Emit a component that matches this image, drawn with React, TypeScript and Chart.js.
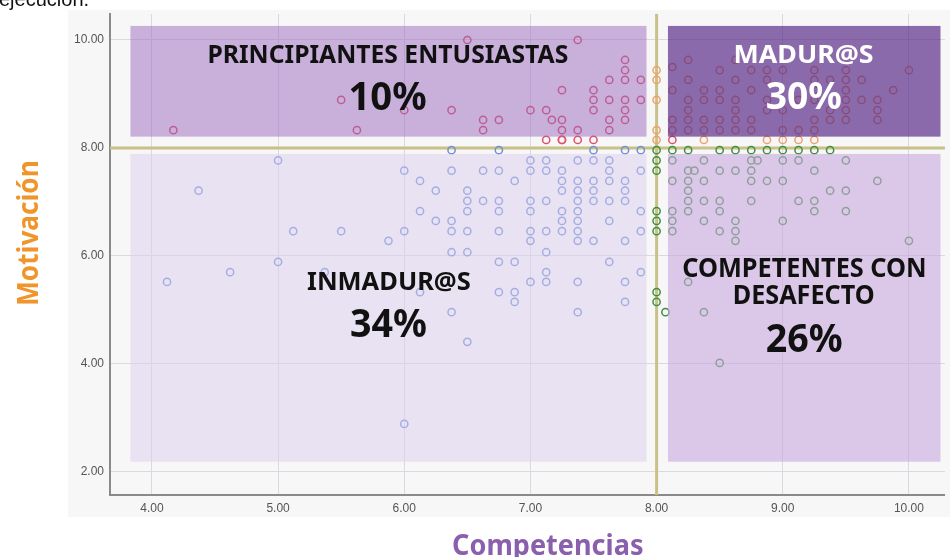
import React, { useEffect, useRef } from "react";
import { Chart, registerables } from "chart.js";

Chart.register(...registerables);

// ---------- data ----------
const xTickValues = [4, 5, 6, 7, 8, 9, 10];
const yTickValues = [2, 4, 6, 8, 10];
const cutCompetencias = 8;
const cutMotivacion = 8;

const principiantesPoints: [number, number][] = [
  [4.17, 8.33], [5.5, 8.89], [5.625, 8.33], [6.0, 8.7], [6.375, 8.7], [6.5, 10.0],
  [6.625, 8.52], [6.625, 8.33], [6.75, 8.52], [7.0, 8.7], [7.125, 8.7], [7.17, 8.52],
  [7.25, 9.07], [7.25, 8.52], [7.25, 8.33], [7.375, 10.0], [7.375, 8.33],
  [7.5, 9.07], [7.5, 8.89], [7.5, 8.7], [7.625, 9.26], [7.625, 8.89], [7.625, 8.52], [7.625, 8.33],
  [7.75, 9.63], [7.75, 9.44], [7.75, 9.26], [7.75, 8.89], [7.75, 8.7], [7.75, 8.52],
  [7.875, 9.26], [7.875, 8.89],
  [7.125, 8.15], [7.25, 8.15], [7.25, 8.15], [7.375, 8.15], [7.5, 8.15], [8.125, 8.15],
];

const madurPoints: [number, number][] = [
  [8, 9.44], [8, 9.26], [8, 8.89], [8, 8.33], [8, 8.15],
  [8.375, 8.15], [8.875, 8.15], [9.0, 8.15], [9.125, 8.15], [9.25, 8.15],
  [8.25, 9.63], [8.625, 9.63], [8.125, 9.5],
  [8.5, 9.44], [8.75, 9.44], [8.875, 9.44], [9.0, 9.44], [9.25, 9.44], [9.5, 9.44], [10.0, 9.44],
  [8.25, 9.26], [8.625, 9.26], [8.875, 9.26], [9.25, 9.26], [9.375, 9.26], [9.5, 9.26], [9.625, 9.26],
  [8.125, 9.07], [8.375, 9.07], [8.5, 9.07], [8.75, 9.07], [9.25, 9.07], [9.5, 9.07], [9.875, 9.07],
  [8.25, 8.89], [8.375, 8.89], [8.5, 8.89], [8.625, 8.89], [8.875, 8.89], [9.125, 8.89], [9.25, 8.89],
  [9.5, 8.89], [9.625, 8.89], [9.75, 8.89],
  [8.25, 8.7], [8.625, 8.7], [8.875, 8.7], [9.0, 8.7], [9.375, 8.7], [9.5, 8.7], [9.75, 8.7],
  [8.125, 8.52], [8.25, 8.52], [8.375, 8.52], [8.5, 8.52], [8.625, 8.52], [8.75, 8.52],
  [9.25, 8.52], [9.375, 8.52], [9.5, 8.52], [9.75, 8.52],
  [8.125, 8.33], [8.25, 8.33], [8.375, 8.33], [8.5, 8.33], [8.625, 8.33], [8.75, 8.33],
  [9.0, 8.33], [9.125, 8.33], [9.25, 8.33],
];

const competentesPoints: [number, number][] = [
  [8, 7.96], [8, 7.77], [8, 7.58], [8, 6.83], [8, 6.65], [8, 6.46], [8, 5.33], [8, 5.15], [8.07, 4.96],
  [8.125, 7.96], [8.25, 7.96], [8.5, 7.96], [8.625, 7.96], [8.75, 7.96], [8.875, 7.96],
  [9.0, 7.96], [9.125, 7.96], [9.25, 7.96], [9.375, 7.96],
  [8.125, 7.77], [8.375, 7.77], [8.75, 7.77], [8.8, 7.77], [9.0, 7.77], [9.125, 7.77], [9.5, 7.77],
  [8.25, 7.58], [8.3, 7.58], [8.5, 7.58], [8.625, 7.58], [8.75, 7.58], [9.25, 7.58],
  [8.125, 7.39], [8.25, 7.39], [8.375, 7.39], [8.75, 7.39], [8.875, 7.39], [9.0, 7.39], [9.75, 7.39],
  [8.25, 7.21], [9.375, 7.21], [9.5, 7.21],
  [8.25, 7.02], [8.375, 7.02], [8.5, 7.02], [8.75, 7.02], [9.125, 7.02], [9.25, 7.02],
  [8.125, 6.83], [8.25, 6.83], [8.5, 6.83], [9.25, 6.83], [9.5, 6.83],
  [8.125, 6.65], [8.375, 6.65], [8.625, 6.65], [9.0, 6.65],
  [8.125, 6.46], [8.5, 6.46], [8.625, 6.46],
  [8.625, 6.28], [10.0, 6.28],
  [8.25, 5.52], [8.375, 4.96], [8.5, 4.02],
];

const inmadurPoints: [number, number][] = [
  [6.375, 7.96], [6.75, 7.96], [7.5, 7.96], [7.75, 7.96], [7.875, 7.96],
  [5.0, 7.77], [7.0, 7.77], [7.125, 7.77], [7.375, 7.77], [7.5, 7.77], [7.625, 7.77],
  [6.0, 7.58], [6.375, 7.58], [6.625, 7.58], [6.75, 7.58], [7.0, 7.58], [7.125, 7.58],
  [7.25, 7.58], [7.625, 7.58], [7.875, 7.58],
  [6.125, 7.39], [6.875, 7.39], [7.25, 7.39], [7.375, 7.39], [7.5, 7.39], [7.625, 7.39], [7.75, 7.39],
  [4.37, 7.21], [6.25, 7.21], [6.5, 7.21], [7.25, 7.21], [7.375, 7.21], [7.5, 7.21], [7.75, 7.21],
  [6.5, 7.02], [6.625, 7.02], [6.75, 7.02], [7.0, 7.02], [7.125, 7.02], [7.375, 7.02],
  [7.5, 7.02], [7.625, 7.02], [7.75, 7.02],
  [6.125, 6.83], [6.5, 6.83], [6.75, 6.83], [7.0, 6.83], [7.25, 6.83], [7.375, 6.83], [7.875, 6.83],
  [6.25, 6.65], [6.375, 6.65], [7.25, 6.65], [7.375, 6.65], [7.625, 6.65],
  [5.12, 6.46], [5.5, 6.46], [6.0, 6.46], [6.375, 6.46], [6.5, 6.46], [6.75, 6.46], [7.0, 6.46],
  [7.125, 6.46], [7.25, 6.46], [7.375, 6.46], [7.875, 6.46],
  [5.875, 6.28], [7.0, 6.28], [7.375, 6.28], [7.5, 6.28], [7.75, 6.28],
  [6.375, 6.07], [6.5, 6.07], [7.125, 6.07],
  [5.0, 5.89], [6.75, 5.89], [6.875, 5.89], [7.625, 5.89],
  [4.62, 5.7], [5.37, 5.7], [7.125, 5.7], [7.875, 5.7],
  [4.12, 5.52], [7.0, 5.52], [7.125, 5.52], [7.375, 5.52], [7.75, 5.52],
  [6.125, 5.33], [6.75, 5.33], [6.875, 5.33],
  [6.875, 5.15], [7.75, 5.15],
  [6.375, 4.96], [7.375, 4.96],
  [6.5, 4.41], [6.0, 2.89],
];

// quadrant boxes: principiantes, madur, inmadur, competentes
const boxNames = [["PRINCIPIANTES ENTUSIASTAS"], ["MADUR@S"], ["INMADUR@S"], ["COMPETENTES CON", "DESAFECTO"]];
const boxShares = ["10%", "30%", "34%", "26%"];
const boxX0 = [3.83, 8.09, 3.83, 8.09];
const boxX1 = [7.92, 10.25, 7.92, 10.25];
const boxY0 = [8.21, 8.21, 2.19, 2.19];
const boxY1 = [10.26, 10.26, 7.89, 7.89];

// ---------- styles ----------
const boxFill = ["rgba(154,106,190,0.5)", "rgba(80,31,130,0.65)", "rgba(218,206,238,0.5)", "rgba(200,168,221,0.6)"];
const boxText = ["#111111", "#ffffff", "#111111", "#111111"];
// per box: [dy from box top to baseline, font size, visual width] for names then share
const nameStyle = [
  [[37, 25, 358]],
  [[37, 25, 137]],
  [[136, 25, 163]],
  [[123, 26.5, 242], [150, 26.5, 139]],
];
const shareStyle = [[84, 39, 76], [83, 38, 75], [183, 40, 75], [198, 40, 75]];

function drawFitted(
  ctx: CanvasRenderingContext2D,
  text: string,
  cx: number,
  baseline: number,
  size: number,
  width: number,
  color: string,
  weight = "bold",
  family = '"Noto Sans", sans-serif'
) {
  ctx.save();
  ctx.font = `${weight} ${size}px ${family}`;
  ctx.textAlign = "left";
  ctx.textBaseline = "alphabetic";
  const m = ctx.measureText(text);
  const vis = m.actualBoundingBoxLeft + m.actualBoundingBoxRight;
  const sx = width / vis;
  ctx.translate(cx - width / 2, baseline);
  ctx.scale(sx, 1);
  ctx.fillStyle = color;
  ctx.fillText(text, m.actualBoundingBoxLeft, 0);
  ctx.restore();
}

const decorPlugin = {
  id: "decor",
  beforeDraw(chart: any) {
    const ctx = chart.ctx as CanvasRenderingContext2D;
    ctx.save();
    ctx.fillStyle = "#ffffff";
    ctx.fillRect(0, 0, chart.width, chart.height);
    ctx.fillStyle = "#f7f7f7";
    ctx.fillRect(68, 10, chart.width - 68, 507);
    ctx.restore();
    ctx.save();
    ctx.font = '20px "Liberation Sans", sans-serif';
    ctx.fillStyle = "#111";
    ctx.textBaseline = "alphabetic";
    ctx.fillText("ejecución.", -1, 6);
    ctx.restore();
  },
  beforeDatasetsDraw(chart: any) {
    const ctx = chart.ctx as CanvasRenderingContext2D;
    const { left, right, top, bottom } = chart.chartArea;
    const xs = chart.scales.x;
    const ys = chart.scales.y;
    ctx.save();
    ctx.strokeStyle = "#c9c08a";
    ctx.lineWidth = 3;
    const px = xs.getPixelForValue(cutCompetencias);
    const py = ys.getPixelForValue(cutMotivacion);
    ctx.beginPath();
    ctx.moveTo(left, py);
    ctx.lineTo(right, py);
    ctx.moveTo(px, top);
    ctx.lineTo(px, bottom);
    ctx.stroke();
    ctx.restore();
  },
  afterDatasetsDraw(chart: any) {
    const ctx = chart.ctx as CanvasRenderingContext2D;
    const xs = chart.scales.x;
    const ys = chart.scales.y;
    for (let i = 0; i < boxX0.length; i++) {
      const l = xs.getPixelForValue(boxX0[i]);
      const r = xs.getPixelForValue(boxX1[i]);
      const t = ys.getPixelForValue(boxY1[i]);
      const b = ys.getPixelForValue(boxY0[i]);
      ctx.save();
      ctx.fillStyle = boxFill[i];
      ctx.fillRect(l, t, r - l, b - t);
      ctx.restore();
      const cx = (l + r) / 2;
      boxNames[i].forEach((line, j) => {
        const [dy, size, w] = nameStyle[i][j];
        drawFitted(ctx, line, cx, t + dy, size, w, boxText[i]);
      });
      const [dy, size, w] = shareStyle[i];
      drawFitted(ctx, boxShares[i], cx, t + dy, size, w, boxText[i]);
    }
  },
  afterDraw(chart: any) {
    const ctx = chart.ctx as CanvasRenderingContext2D;
    drawFitted(ctx, "Competencias", 548, 555, 29, 190, "#8a5fae");
    ctx.save();
    ctx.translate(38, 233);
    ctx.rotate(-Math.PI / 2);
    drawFitted(ctx, "Motivación", 0, 0, 29, 142, "#f0952b");
    ctx.restore();
  },
};

const toXY = (pts: [number, number][]) => pts.map(([x, y]) => ({ x, y }));

export default function App() {
  const ref = useRef<HTMLCanvasElement | null>(null);
  useEffect(() => {
    if (!ref.current) return;
    const pointBase = {
      backgroundColor: "rgba(0,0,0,0)",
      pointRadius: 3.6,
      pointHoverRadius: 3.6,
      pointBorderWidth: 1.5,
      showLine: false,
    };
    const tickFont = { family: '"Liberation Sans", Arial, sans-serif', size: 12 };
    const chart = new Chart(ref.current, {
      type: "scatter",
      data: {
        datasets: [
          { ...pointBase, label: "Inmadur@s", data: toXY(inmadurPoints), borderColor: "#6f8fd6" },
          { ...pointBase, label: "Competentes con desafecto", data: toXY(competentesPoints), borderColor: "#3f8f3f" },
          { ...pointBase, label: "Principiantes entusiastas", data: toXY(principiantesPoints), borderColor: "#e2506a" },
          { ...pointBase, label: "Madur@s", data: toXY(madurPoints), borderColor: "#f0a06a" },
        ],
      },
      options: {
        responsive: false,
        animation: false,
        layout: { padding: { top: 14, right: 3, left: 0, bottom: 0 } },
        plugins: { legend: { display: false }, tooltip: { enabled: false } },
        scales: {
          x: {
            type: "linear",
            min: 3.668,
            max: 10.285,
            afterFit: (s: any) => { s.height = 62; },
            afterBuildTicks: (s: any) => { s.ticks = xTickValues.map((v) => ({ value: v })); },
            ticks: { callback: (v: any) => Number(v).toFixed(2), color: "#555", font: tickFont, padding: 6, maxRotation: 0 },
            grid: { color: "#dcd8e2", lineWidth: 1, drawTicks: false },
            border: { display: true, color: "#8a8a8a", width: 2 },
          },
          y: {
            type: "linear",
            min: 1.574,
            max: 10.481,
            afterFit: (s: any) => { s.width = 110; },
            afterBuildTicks: (s: any) => { s.ticks = yTickValues.map((v) => ({ value: v })); },
            ticks: { callback: (v: any) => Number(v).toFixed(2), color: "#555", font: tickFont, padding: 6 },
            grid: { color: "#dcd8e2", lineWidth: 1, drawTicks: false },
            border: { display: true, color: "#8a8a8a", width: 2 },
          },
        },
      },
      plugins: [decorPlugin],
    } as any);
    return () => chart.destroy();
  }, []);
  return (
    <div style={{ position: "absolute", left: 0, top: 0, width: 950, height: 557, background: "#fff" }}>
      <canvas ref={ref} width={950} height={557} style={{ display: "block" }} />
    </div>
  );
}
